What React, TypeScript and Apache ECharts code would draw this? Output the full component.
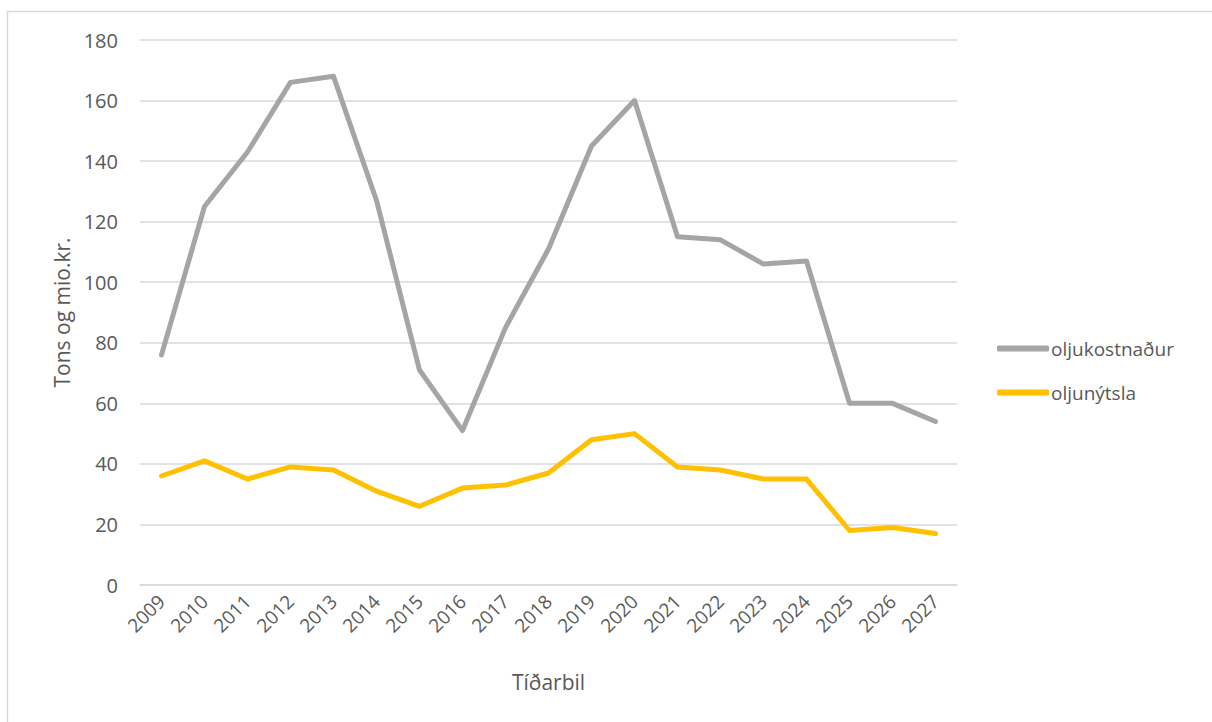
import React, { useEffect, useRef } from "react";
import * as echarts from "echarts";

const years = ["2009","2010","2011","2012","2013","2014","2015","2016","2017","2018","2019","2020","2021","2022","2023","2024","2025","2026","2027"];
const oljukostnadur = [76,125,143,166,168,127,71,51,85,111,145,160,115,114,106,107,60,60,54];
const oljunytsla = [36,41,35,39,38,31,26,32,33,37,48,50,39,38,35,35,18,19,17];
const seriesNames = ["oljukostnaður", "oljunýtsla"];
const xTitle = "Tíðarbil";
const yTitle = "Tons og mio.kr.";

const FONT = "'Open Sans', sans-serif";
const TXT = "#595959";

export default function App() {
  const ref = useRef<HTMLDivElement>(null);
  useEffect(() => {
    document.body.style.margin = "0";
    const chart = echarts.init(ref.current!, null, { renderer: "svg" });
    chart.setOption({
      animation: false,
      backgroundColor: "#fff",
      textStyle: { fontFamily: FONT },
      graphic: [
        {
          type: "rect",
          shape: { x: 7.5, y: 11.5, width: 1300, height: 800 },
          style: { fill: "none", stroke: "#D9D9D9", lineWidth: 1.5 },
          silent: true,
        },
      ],
      grid: { left: 140, right: 255, top: 40, bottom: 137, containLabel: false },
      legend: {
        orient: "vertical",
        left: 992,
        top: 330,
        icon: "roundRect",
        itemWidth: 52,
        itemHeight: 6,
        itemGap: 17,
        itemStyle: { borderWidth: 0 },
        textStyle: { color: TXT, fontSize: 19, lineHeight: 27, fontFamily: FONT, padding: [0, 0, 0, -3] },
        data: seriesNames,
      },
      xAxis: {
        type: "category",
        data: years,
        boundaryGap: true,
        name: xTitle,
        nameLocation: "middle",
        nameGap: 86,
        nameTextStyle: { color: TXT, fontSize: 21, fontFamily: FONT },
        axisLine: { show: true, lineStyle: { color: "#D9D9D9", width: 1.5 } },
        axisTick: { show: false },
        axisLabel: { rotate: 45, color: TXT, fontSize: 19, fontFamily: FONT, margin: 13, interval: 0 },
      },
      yAxis: {
        type: "value",
        min: 0,
        max: 180,
        interval: 20,
        name: yTitle,
        nameLocation: "middle",
        nameGap: 66,
        nameTextStyle: { color: TXT, fontSize: 21, fontFamily: FONT },
        axisLine: { show: false },
        axisTick: { show: false },
        axisLabel: { color: TXT, fontSize: 20, fontFamily: FONT, margin: 22 },
        splitLine: { lineStyle: { color: "#D9D9D9", width: 1.5 } },
      },
      series: [
        {
          name: seriesNames[0],
          type: "line",
          data: oljukostnadur,
          symbol: "none",
          lineStyle: { color: "#A5A5A5", width: 5, cap: "round", join: "round" },
          itemStyle: { color: "#A5A5A5" },
        },
        {
          name: seriesNames[1],
          type: "line",
          data: oljunytsla,
          symbol: "none",
          lineStyle: { color: "#FFC000", width: 5, cap: "round", join: "round" },
          itemStyle: { color: "#FFC000" },
        },
      ],
    });
    return () => chart.dispose();
  }, []);
  return <div ref={ref} style={{ width: 1212, height: 722 }} />;
}
